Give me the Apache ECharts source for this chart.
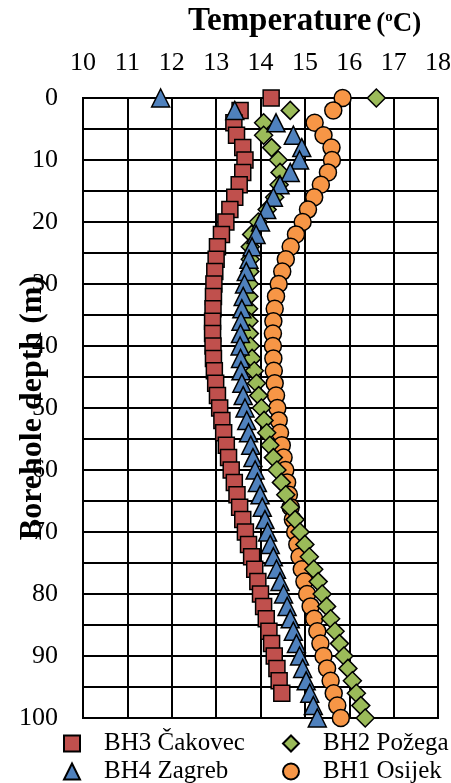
<!DOCTYPE html>
<html>
<head>
<meta charset="utf-8">
<script src="https://cdn.jsdelivr.net/npm/echarts@6/dist/echarts.min.js"></script>
<style>
html,body{margin:0;padding:0;background:#fff;}
#chart{width:451px;height:783px;}
</style>
</head>
<body>
<div id="chart"></div>
<script>
// Depth of each reading (m)
const depths = [0,2,4,6,8,10,12,14,16,18,20,22,24,26,28,30,32,34,36,38,40,42,44,46,48,50,52,54,56,58,60,62,64,66,68,70,72,74,76,78,80,82,84,86,88,90,92,94,96,98,100];

// Temperatures (°C) per borehole
const bh3Cakovec = [14.24,13.54,13.40,13.46,13.60,13.65,13.60,13.52,13.42,13.31,13.22,13.12,13.03,13.00,12.97,12.95,12.94,12.93,12.92,12.92,12.93,12.94,12.96,12.99,13.03,13.08,13.13,13.17,13.23,13.28,13.34,13.41,13.47,13.53,13.60,13.66,13.73,13.80,13.87,13.94,14.00,14.07,14.13,14.19,14.25,14.31,14.37,14.42,14.48];
const bh2Pozega = [16.61,14.67,14.07,14.07,14.25,14.40,14.44,14.42,14.32,14.15,13.95,13.80,13.77,13.77,13.76,13.75,13.74,13.73,13.74,13.75,13.77,13.81,13.86,13.91,13.96,14.02,14.08,14.14,14.21,14.29,14.37,14.47,14.57,14.67,14.78,14.89,15.00,15.10,15.20,15.30,15.39,15.49,15.58,15.68,15.78,15.88,15.97,16.07,16.16,16.26,16.36];
const bh4Zagreb = [11.75,13.42,14.35,14.74,14.93,14.88,14.67,14.44,14.29,14.14,14.00,13.90,13.81,13.74,13.68,13.64,13.61,13.58,13.56,13.55,13.54,13.55,13.56,13.58,13.61,13.65,13.69,13.73,13.78,13.83,13.88,13.93,13.99,14.04,14.10,14.16,14.22,14.29,14.36,14.44,14.52,14.60,14.67,14.74,14.81,14.88,14.95,15.03,15.11,15.19,15.28];
const bh1Osijek = [15.85,15.64,15.22,15.42,15.60,15.61,15.52,15.36,15.21,15.07,14.95,14.80,14.68,14.57,14.49,14.41,14.35,14.32,14.29,14.28,14.28,14.29,14.30,14.32,14.35,14.38,14.41,14.44,14.48,14.52,14.56,14.60,14.64,14.68,14.73,14.78,14.83,14.88,14.93,14.99,15.05,15.13,15.21,15.28,15.35,15.42,15.50,15.58,15.65,15.73,15.81];

const names = ['BH3 Čakovec','BH2 Požega','BH4 Zagreb','BH1 Osijek'];
const xTicks = [10,11,12,13,14,15,16,17,18];
const yTickLabels = [0,10,20,30,40,50,60,70,80,90,100];

const FONT = '"Liberation Serif","Times New Roman",serif';
const pairs = (vals) => vals.map((t, i) => [t, depths[i]]);

const chart = echarts.init(document.getElementById('chart'), null, {renderer:'canvas'});

function mkSeries(name, vals, symbol, color, size, z) {
  return {
    name: name, type: 'scatter', data: pairs(vals), symbol: symbol, symbolSize: size,
    z: z,
    itemStyle: {color: color, borderColor: '#000', borderWidth: 1.5, opacity: 1},
    emphasis: {disabled: true}
  };
}

function mkLegend(name, left, top) {
  return {
    data: [name], left: left, top: top, padding: 0,
    itemWidth: 16, itemHeight: 16, selectedMode: false,
    textStyle: {fontFamily: FONT, fontSize: 25, color: '#000', padding: [0,0,0,19]}
  };
}

const option = {
  backgroundColor: '#fff',
  animation: false,
  title: {
    text: '{a|Temperature} {b|(}{s|o}{b|C)}',
    left: 188, top: 4, padding: 0,
    textStyle: {
      rich: {
        a: {fontFamily: FONT, fontSize: 33, fontWeight: 'bold', color: '#000', lineHeight: 34, verticalAlign: 'bottom'},
        b: {fontFamily: FONT, fontSize: 27, fontWeight: 'bold', color: '#000', lineHeight: 34, verticalAlign: 'bottom'},
        s: {fontFamily: FONT, fontSize: 15, fontWeight: 'bold', color: '#000', lineHeight: 34, verticalAlign: 'top', padding: [6,0,0,0]}
      }
    }
  },
  grid: {left: 83, right: 13, top: 98, bottom: 65, containLabel: false, outerBoundsMode: 'none',
    show: true, borderColor: '#000', borderWidth: 2, backgroundColor: 'transparent'},
  legend: [
    mkLegend(names[0], 63, 731),
    mkLegend(names[1], 282, 731),
    mkLegend(names[2], 63, 759),
    mkLegend(names[3], 282, 759)
  ],
  xAxis: {
    type: 'value', position: 'top', min: xTicks[0], max: xTicks[xTicks.length-1], interval: 1,
    axisLine: {show: true, lineStyle: {color: '#000', width: 2}},
    axisTick: {show: false},
    axisLabel: {fontFamily: FONT, fontSize: 26, color: '#000', margin: 22},
    splitLine: {show: true, lineStyle: {color: '#000', width: 2}}
  },
  yAxis: {
    type: 'value', inverse: true, min: 0, max: 100, interval: 5,
    name: 'Borehole depth (m)', nameLocation: 'middle', nameGap: 34, nameRotate: 90,
    nameMoveOverlap: false,
    nameTextStyle: {fontFamily: FONT, fontSize: 32, fontWeight: 'bold', color: '#000'},
    axisLine: {show: true, lineStyle: {color: '#000', width: 2}},
    axisTick: {show: false},
    axisLabel: {fontFamily: FONT, fontSize: 26, color: '#000', margin: 25,
      formatter: (v) => yTickLabels.indexOf(v) >= 0 ? String(v) : ''},
    splitLine: {show: true, lineStyle: {color: '#000', width: 2}}
  },
  series: [
    mkSeries(names[3], bh1Osijek, 'circle', '#F79646', 17, 2),
    mkSeries(names[0], bh3Cakovec, 'rect', '#C0504D', 16, 3),
    mkSeries(names[1], bh2Pozega, 'diamond', '#9BBB59', 18, 4),
    mkSeries(names[2], bh4Zagreb, 'triangle', '#4F81BD', 18, 5)
  ]
};
chart.setOption(option);
</script>
</body>
</html>
